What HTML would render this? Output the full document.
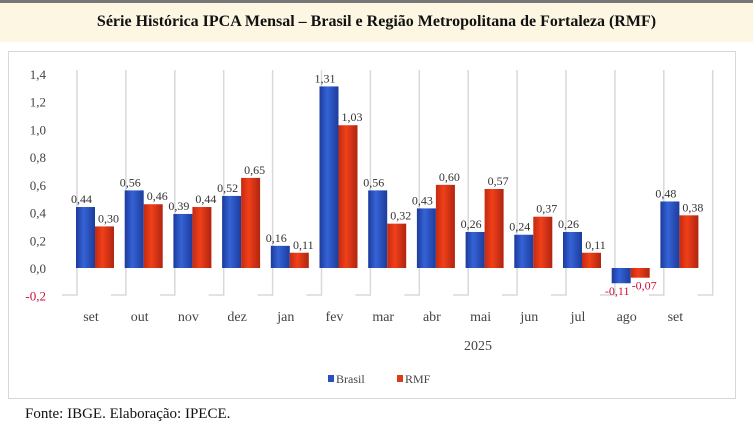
<!DOCTYPE html>
<html><head><meta charset="utf-8"><style>
html,body{margin:0;padding:0;background:#fff;}
body{width:753px;height:427px;position:relative;overflow:hidden;font-family:"Liberation Serif","Times New Roman","DejaVu Serif",serif;}
#topline{position:absolute;left:0;top:0;width:753px;height:3px;background:#777;}
#title{position:absolute;left:0;top:3px;width:753px;height:39px;background:#fcf6e2;text-align:center;line-height:38px;font-weight:bold;font-size:16px;color:#111;font-family:"Liberation Serif","Times New Roman",serif;}
#box{position:absolute;left:8px;top:51px;width:726px;height:346px;border:1px solid #d8d8d8;}
#src{position:absolute;left:25px;top:406px;font-size:15px;color:#111;font-family:"Liberation Serif","Times New Roman",serif;}
svg{position:absolute;left:0;top:0;}
svg text{font-family:"Liberation Serif","Times New Roman",serif;}
</style></head><body>
<div id="topline"></div>
<div id="title">Série Histórica IPCA Mensal – Brasil e Região Metropolitana de Fortaleza (RMF)</div>
<div id="box"></div>
<div id="src">Fonte: IBGE. Elaboração: IPECE.</div>
<svg id="chart" width="753" height="427">
<defs>
<linearGradient id="gb" x1="0" x2="1"><stop offset="0" stop-color="#1c3a9a"/><stop offset="0.4" stop-color="#3563d6"/><stop offset="1" stop-color="#1d3c9c"/></linearGradient>
<linearGradient id="gr" x1="0" x2="1"><stop offset="0" stop-color="#c42a10"/><stop offset="0.4" stop-color="#f0401a"/><stop offset="1" stop-color="#b02410"/></linearGradient>
</defs>
</svg>
<script>
const categories=["set","out","nov","dez","jan","fev","mar","abr","mai","jun","jul","ago","set"];
const brasil=[0.44,0.56,0.39,0.52,0.16,1.31,0.56,0.43,0.26,0.24,0.26,-0.11,0.48];
const rmf=[0.30,0.46,0.44,0.65,0.11,1.03,0.32,0.60,0.57,0.37,0.11,-0.07,0.38];
const yTicks=[-0.2,0,0.2,0.4,0.6,0.8,1.0,1.2,1.4];
const svg=document.getElementById('chart');
const NS='http://www.w3.org/2000/svg';
const y=v=>268-v*138.6;
const cx=i=>95+48.7*i;
const fmt=v=>v.toFixed(2).replace('.',',');
function mk(t,a,txt){const e=document.createElementNS(NS,t);for(const k in a)e.setAttribute(k,a[k]);if(txt!=null)e.textContent=txt;svg.appendChild(e);return e;}
for(let i=0;i<=categories.length;i++){
  const gx=77+48.9*i;
  const g=mk('path',{d:`M${gx} 70 V295 H${gx-15}`,stroke:'#d9d9d9','stroke-width':1.5,fill:'none'});
  
  
}
yTicks.forEach(v=>{
  const t=mk('text',{x:46,y:y(v)+5,'text-anchor':'end','font-size':13,fill:v<0?'#d0103a':'#444'},fmt(v).slice(0,-1));
  
  
});
categories.forEach((c,i)=>{
  const x=cx(i);
  [[brasil[i],x-19,'url(#gb)','bar-brasil'],[rmf[i],x,'url(#gr)','bar-rmf']].forEach(([v,bx,f,n],k)=>{
    const top=Math.min(y(v),y(0)),h=Math.abs(y(v)-y(0));
    const r=mk('rect',{x:bx,y:top,width:19,height:h,fill:f});
    
    
    const ly=v>=0?y(v)-4:y(v)+12;
    const lx=bx+9.5+(k===0?-4:4);
    const t=mk('text',{x:lx,y:ly,'text-anchor':'middle','font-size':12,fill:v<0?'#d0103a':'#333'},fmt(v));
    
    
  });
  const t=mk('text',{x:x-4,y:321,'text-anchor':'middle','font-size':14,fill:'#444'},c);
  
  
});
const yr=mk('text',{x:478,y:350,'text-anchor':'middle','font-size':14,fill:'#444'},'2025');


[['Brasil',328,'#2a4fc0','legend-brasil'],['RMF',397,'#e0381a','legend-rmf']].forEach(([l,lx,c,n])=>{
  const g=document.createElementNS(NS,'g');svg.appendChild(g);
  
  
  const r=document.createElementNS(NS,'rect');r.setAttribute('x',lx);r.setAttribute('y',375);r.setAttribute('width',6);r.setAttribute('height',7);r.setAttribute('fill',c);g.appendChild(r);
  const t=document.createElementNS(NS,'text');t.setAttribute('x',lx+8);t.setAttribute('y',383);t.setAttribute('font-size',12);t.setAttribute('fill','#444');t.textContent=l;g.appendChild(t);
});
</script>
</body></html>
